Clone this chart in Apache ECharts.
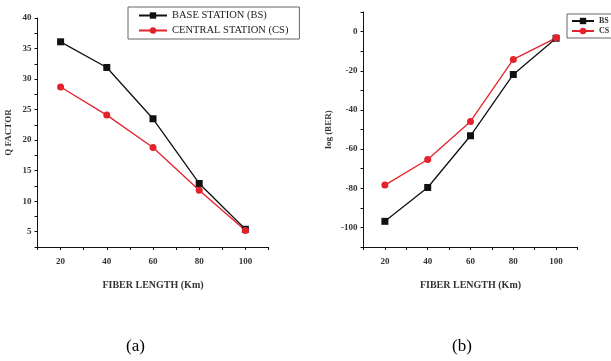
<!DOCTYPE html>
<html>
<head>
<meta charset="utf-8">
<script src="https://cdn.jsdelivr.net/npm/echarts@6/dist/echarts.min.js"></script>
<style>
  html, body { margin: 0; padding: 0; background: #fff; }
  #chart { width: 611px; height: 361px; }
</style>
</head>
<body>
<div id="chart"></div>
<script>
// fiber length (km) shared by both panels
const fiberLength = [20, 40, 60, 80, 100];

// (a) Q factor
const qBaseStation = [36.1, 31.9, 23.5, 12.9, 5.4];
const qCentralStation = [28.7, 24.1, 18.8, 11.8, 5.2];

// (b) log(BER)
const berBaseStation = [-96.9, -79.6, -53.2, -21.9, -3.4];
const berCentralStation = [-78.4, -65.3, -45.9, -14.2, -3.2];

const serif = 'Liberation Serif';
const red = '#e3222b';
const black = '#111';

const pairs = (xs, ys) => xs.map((x, i) => [x, ys[i]]);

const chart = echarts.init(document.getElementById('chart'));

const axisCommon = {
  axisLine: { show: true, onZero: false, lineStyle: { color: '#111', width: 1 } },
  axisTick: { show: true, inside: false, length: 3, lineStyle: { color: '#111' } },
  splitLine: { show: false },
  nameTextStyle: { fontFamily: serif, fontWeight: 'bold', fontSize: 9, color: '#333' }
};

const labelStyle = { fontFamily: serif, fontWeight: 'bold', fontSize: 9, color: '#333' };

const xAxisFor = gridIndex => Object.assign({}, axisCommon, {
  type: 'value',
  gridIndex: gridIndex,
  min: 10,
  max: 110,
  interval: 10,
  name: 'FIBER LENGTH (Km)',
  nameLocation: 'middle',
  nameGap: 33,
  nameTextStyle: Object.assign({}, axisCommon.nameTextStyle, { fontSize: 10 }),
  axisLabel: Object.assign({}, labelStyle, {
    margin: 10,
    formatter: v => (v % 20 === 0 ? String(v) : '')
  })
});

const lineSeries = (name, data, color, symbol, xi) => ({
  type: 'line',
  name: name,
  xAxisIndex: xi,
  yAxisIndex: xi,
  data: data,
  symbol: symbol,
  symbolSize: 7,
  lineStyle: { color: color, width: 1.3 },
  itemStyle: { color: color },
  emphasis: { disabled: true },
  animation: false
});

const legendCommon = {
  orient: 'vertical',
  borderColor: '#666',
  borderWidth: 1,
  itemWidth: 28,
  itemHeight: 8,
  textStyle: { fontFamily: serif, fontWeight: 'bold', fontSize: 9, color: '#333' }
};

chart.setOption({
  animation: false,
  grid: [
    { left: 37.5, top: 18, width: 231, height: 229 },
    { left: 363.5, top: 12, width: 214, height: 235 }
  ],
  xAxis: [xAxisFor(0), xAxisFor(1)],
  yAxis: [
    Object.assign({}, axisCommon, {
      type: 'value',
      gridIndex: 0,
      min: 2.5,
      max: 40,
      interval: 2.5,
      name: 'Q FACTOR',
      nameLocation: 'middle',
      nameGap: 24,
      axisLabel: Object.assign({}, labelStyle, {
        margin: 6,
        formatter: v => (v % 5 === 0 ? String(v) : '')
      })
    }),
    Object.assign({}, axisCommon, {
      type: 'value',
      gridIndex: 1,
      min: -110,
      max: 10,
      interval: 10,
      name: 'log (BER)',
      nameLocation: 'middle',
      nameGap: 30,
      axisLabel: Object.assign({}, labelStyle, {
        margin: 6,
        formatter: v => (v % 20 === 0 ? String(v) : '')
      })
    })
  ],
  legend: [
    Object.assign({}, legendCommon, {
      left: 128,
      top: 7,
      padding: [3, 11, 3, 10],
      itemGap: 4,
      textStyle: Object.assign({}, legendCommon.textStyle, { fontSize: 10.5, fontWeight: 'normal', color: '#222' }),
      data: ['BASE STATION (BS)', 'CENTRAL STATION (CS)']
    }),
    Object.assign({}, legendCommon, {
      left: 567,
      top: 14,
      padding: [3, 12, 3, 4],
      itemGap: 2,
      itemWidth: 22,
      textStyle: Object.assign({}, legendCommon.textStyle, { fontSize: 8 }),
      data: ['BS', 'CS']
    })
  ],
  series: [
    lineSeries('BASE STATION (BS)', pairs(fiberLength, qBaseStation), black, 'rect', 0),
    lineSeries('CENTRAL STATION (CS)', pairs(fiberLength, qCentralStation), red, 'circle', 0),
    lineSeries('BS', pairs(fiberLength, berBaseStation), black, 'rect', 1),
    lineSeries('CS', pairs(fiberLength, berCentralStation), red, 'circle', 1)
  ],
  graphic: [
    {
      type: 'text', left: 126, top: 338,
      style: { text: '(a)', font: '17px "Liberation Serif"', fill: '#000' }
    },
    {
      type: 'text', left: 452, top: 338,
      style: { text: '(b)', font: '17px "Liberation Serif"', fill: '#000' }
    }
  ]
});
</script>
</body>
</html>
